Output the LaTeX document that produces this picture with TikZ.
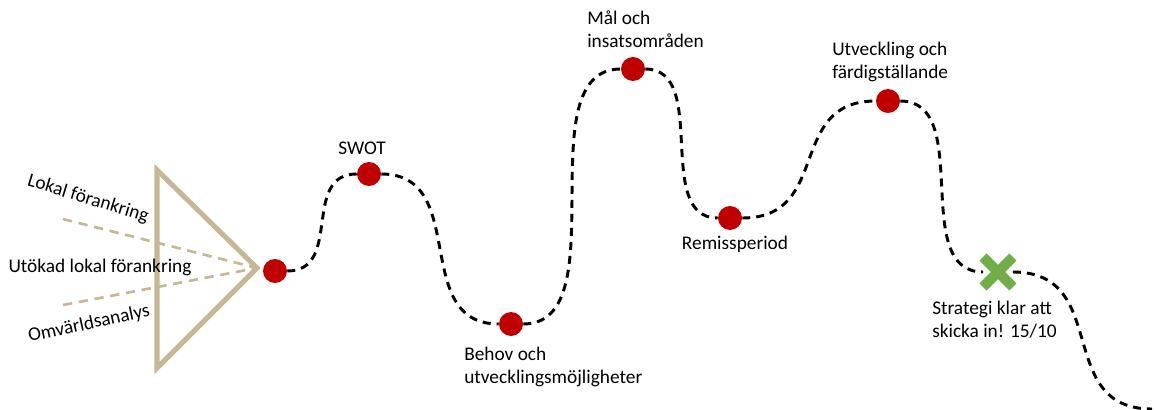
\documentclass[tikz,border=0pt]{standalone}
\usepackage{fontspec}
\setmainfont{Carlito}
\usepackage{tikz}

\definecolor{rouge}{RGB}{192,0,0}
\definecolor{beige}{RGB}{198,184,148}
\definecolor{vert}{RGB}{112,173,71}

\tikzset{
  etape/.style={circle, fill=rouge, minimum size=18pt, inner sep=0pt},
  chemin/.style={line width=2.2pt, dash pattern=on 6pt off 4.5pt},
  texte/.style={inner sep=0pt, align=left, anchor=north west},
}

\begin{document}
\begin{tikzpicture}[x=0.75pt, y=-0.75pt, font=\fontsize{14.5}{17}\selectfont]
\useasboundingbox (0,0) rectangle (1154,410);

% Le triangle
\coordinate (T1) at (157,170);
\coordinate (T2) at (157,368);
\coordinate (T3) at (257,268);
\draw[beige, line width=3.8pt, line join=miter] (T1) -- (T3) -- (T2) -- cycle;

% Les lignes d'entrée (pointillés)
\coordinate (A1) at (63,219);
\coordinate (A2) at (63,305);
\draw[beige, line width=2pt, dash pattern=on 7pt off 5pt] (A1) -- (T3);
\draw[beige, line width=2pt, dash pattern=on 7pt off 5pt] (A2) -- (T3);

% Les textes d'entrée
\node[rotate=-17] (lokal) at (88,199) {Lokal förankring};
\node (utokad) at (100,267) {Utökad lokal förankring};
\node[rotate=12] (omvarld) at (89,324) {Omvärldsanalys};

% Les étapes
\foreach \n/\x/\y in {1/275/271, 2/369/174, 3/511/324, 4/633/69, 5/730/218, 6/888/101}
\node[etape] (P\n) at (\x,\y) {};

% La croix verte
\node[minimum size=22pt, inner sep=0pt] (klar) at (998,272) {};
\draw[vert, line width=7.5pt] (klar.north west) -- (klar.south east);
\draw[vert, line width=7.5pt] (klar.south west) -- (klar.north east);
\coordinate (fin) at (1152,409);

% Le chemin
\draw[chemin] (P1) to[out=0, in=180, looseness=1.2] (P2)
  to[out=0, in=180, looseness=1.2] (P3)
  to[out=0, in=180, looseness=0.9] (P4)
  to[out=0, in=180, looseness=1.0] (P5)
  to[out=0, in=180, looseness=1.3] (P6)
  to[out=0, in=180, looseness=1.0] (klar)
  to[out=0, in=180, looseness=1.3] (fin);

% Les étiquettes
\node (swot) at (362,148) {SWOT};
\node[texte] (behov) at (464,347) {Behov och\\utvecklingsmöjligheter};
\node[texte] (mal) at (587,11) {Mål och\\insatsområden};
\node (remiss) at (735,244) {Remissperiod};
\node[texte] (utv) at (832,42) {Utveckling och\\färdigställande};
\node[texte] (strat) at (932,301) {Strategi klar att\\skicka in! 15/10};

\end{tikzpicture}
\end{document}
